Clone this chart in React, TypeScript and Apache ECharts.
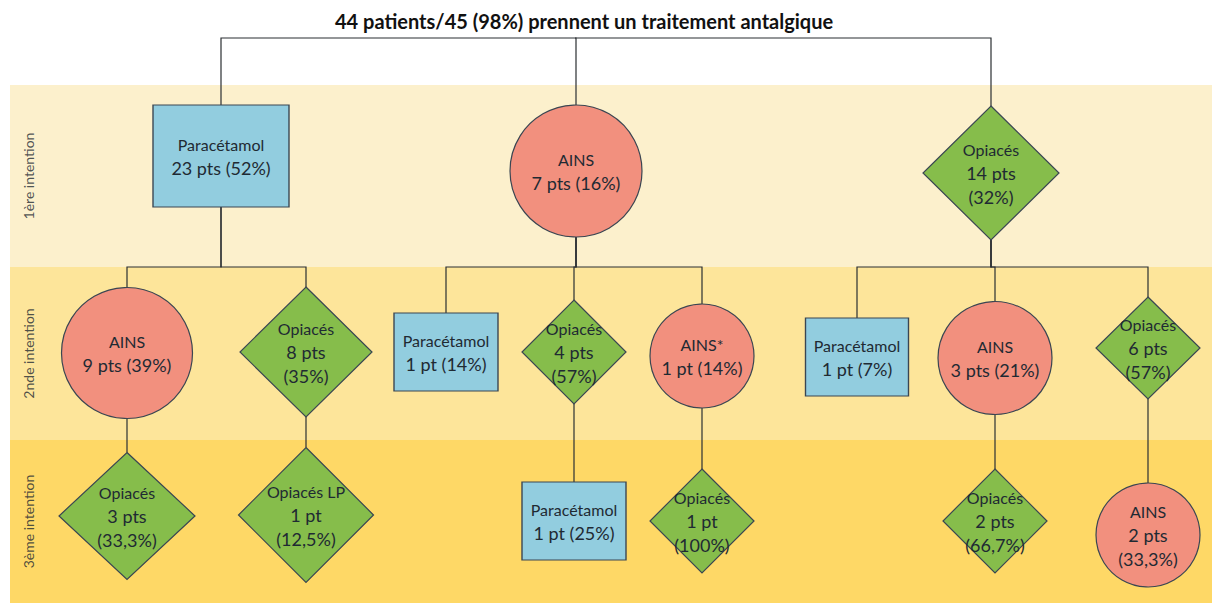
import React, { useEffect, useRef } from "react";
import * as echarts from "echarts";

// ---- data ----
const titleText = "44 patients/45 (98%) prennent un traitement antalgique";
const bandNames = ["1ère intention", "2nde intention", "3ème intention"];
const drugs = [
  "Paracétamol", "AINS", "Opiacés",
  "AINS", "Opiacés", "Paracétamol", "Opiacés", "AINS*", "Paracétamol", "AINS", "Opiacés",
  "Opiacés", "Opiacés LP", "Paracétamol", "Opiacés", "Opiacés", "AINS",
];
const patients = [23, 7, 14, 9, 8, 1, 4, 1, 1, 3, 6, 3, 1, 1, 1, 2, 2];
const percents = [
  "52%", "16%", "32%",
  "39%", "35%", "14%", "57%", "14%", "7%", "21%", "57%",
  "33,3%", "12,5%", "25%", "100%", "66,7%", "33,3%",
];
const levels = [1, 1, 1, 2, 2, 2, 2, 2, 2, 2, 2, 3, 3, 3, 3, 3, 3];
const parents = [-1, -1, -1, 0, 0, 1, 1, 1, 2, 2, 2, 3, 4, 6, 7, 9, 10];

// ---- layout (positions / sizes, in page pixels) ----
const nodeX = [221, 576, 991, 127, 306, 446, 574, 702, 857, 995, 1148, 127, 306, 574, 702, 995, 1148];
const nodeY = [156, 171, 173, 353, 352, 352, 352, 356, 357, 358, 348, 516, 515, 521, 521, 521, 535];
const nodeW = [136, 132, 136, 131, 132, 104, 104, 104, 103, 114, 104, 136, 135, 104, 104, 104, 104];
const nodeH = [102, 132, 134, 131, 130, 78, 104, 104, 78, 113, 102, 127, 135, 78, 104, 104, 104];
const bandEdges = [85, 267, 440, 603];
const busY = [38, 267, 440];
const rootX = 575;

const W = 1216;
const H = 603;
const FONT = "Lato, 'Noto Sans', sans-serif";

function shapeOf(d: string) {
  if (d.startsWith("Paracétamol")) return "rect";
  if (d.startsWith("AINS")) return "circle";
  return "diamond";
}
const fills: Record<string, string> = { rect: "#92CDDF", circle: "#F2907E", diamond: "#86BD4B" };

export default function App() {
  const ref = useRef<HTMLDivElement>(null);
  useEffect(() => {
    if (!ref.current) return;
    const chart = echarts.init(ref.current, undefined, { renderer: "svg" });

    const nodes = drugs.map((d, i) => {
      const shape = shapeOf(d);
      const cnt = `${patients[i]} ${patients[i] === 1 ? "pt" : "pts"}`;
      const pct = `(${percents[i]})`;
      const threeLines = shape === "diamond" || percents[i].includes(",");
      const label = threeLines
        ? `{n|${d}}\n{v|${cnt}}\n{v|${pct}}`
        : `{n|${d}}\n{v|${cnt} ${pct}}`;
      return {
        value: [nodeX[i], nodeY[i]],
        symbol: shape,
        symbolSize: [nodeW[i], nodeH[i]],
        itemStyle: { color: fills[shape], borderColor: "#3a4652", borderWidth: 1.2, opacity: 1 },
        label: { formatter: label },
      };
    });

    const bottomOf = (i: number) => nodeY[i] + nodeH[i] / 2;
    const topOf = (i: number) => nodeY[i] - nodeH[i] / 2;

    const edges = drugs.map((_, i) => {
      const p = parents[i];
      const lv = levels[i];
      const by = busY[lv - 1];
      const cx = nodeX[i];
      if (p < 0) {
        return { coords: [[rootX, by], [cx, by], [cx, topOf(i)]] };
      }
      const px = nodeX[p];
      return { coords: [[px, bottomOf(p)], [px, by], [cx, by], [cx, topOf(i)]] };
    });

    const bandColors = ["#FCF0CC", "#FDE59A", "#FED866"];
    const bands = bandNames.map((_, k) => [
      { xAxis: 10, yAxis: bandEdges[k], itemStyle: { color: bandColors[k], opacity: 1 } },
      { xAxis: 1212, yAxis: bandEdges[k + 1] },
    ]);

    const bandLabels = bandNames.map((b, k) => ({
      name: b,
      value: [28, (bandEdges[k] + bandEdges[k + 1]) / 2],
    }));

    chart.setOption({
      animation: false,
      backgroundColor: "#ffffff",
      title: {
        text: titleText,
        left: 330,
        top: 6,
        textStyle: { fontFamily: FONT, fontSize: 20, fontWeight: "bold", color: "#111" },
      },
      grid: { left: 0, right: 0, top: 0, bottom: 0 },
      xAxis: { type: "value", min: 0, max: W, show: false },
      yAxis: { type: "value", min: 0, max: H, inverse: true, show: false },
      series: [
        {
          type: "lines",
          coordinateSystem: "cartesian2d",
          polyline: true,
          z: 2,
          silent: true,
          lineStyle: { color: "#2b2f33", width: 1.2, opacity: 1 },
          data: edges,
          markArea: {
            silent: true,
            z: 0,
            data: bands,
          },
        },
        {
          type: "scatter",
          z: 3,
          silent: true,
          data: nodes,
          label: {
            show: true,
            position: "inside",
            align: "center",
            rich: {
              n: { fontFamily: FONT, fontSize: 16, lineHeight: 23, color: "#1f2a33" },
              v: { fontFamily: FONT, fontSize: 18, lineHeight: 24, color: "#1f2a33" },
            },
          },
        },
        {
          type: "scatter",
          z: 3,
          silent: true,
          symbolSize: 0,
          data: bandLabels,
          label: {
            show: true,
            position: "inside",
            rotate: 90,
            formatter: "{b}",
            fontFamily: FONT,
            fontSize: 14,
            color: "#1f2a33",
          },
        },
      ],
    });
    return () => chart.dispose();
  }, []);
  return (
    <div
      ref={ref}
      style={{ position: "absolute", left: 0, top: 0, width: W, height: H }}
    />
  );
}
